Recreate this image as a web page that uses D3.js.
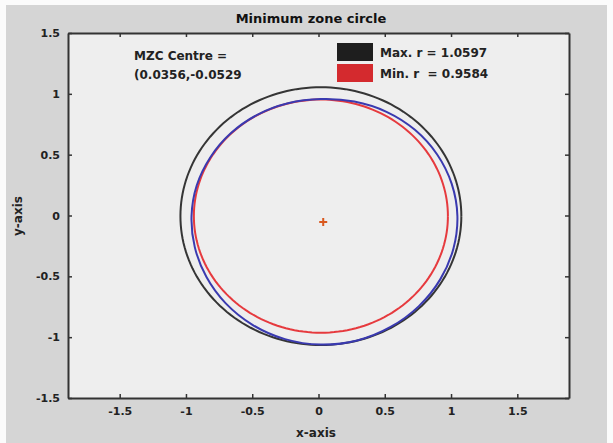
<!DOCTYPE html>
<html><head><meta charset="utf-8">
<script src="https://cdn.jsdelivr.net/npm/d3@7"></script>
<style>html,body{margin:0;padding:0;background:#fff}svg{display:block}</style>
</head><body>
<script>
// ---- data ----
const centre = [0.0356, -0.0529];          // reported MZC centre (marker + label)
const circleCentre = [0.018, -0.005];      // where the circles sit in the picture
const maxR = 1.0597;
const minR = 0.9584;
const xTicks = [-1.5, -1, -0.5, 0, 0.5, 1, 1.5];
const yTicks = [-1.5, -1, -0.5, 0, 0.5, 1, 1.5];
// measured profile (polar, about the circle centre)
const profileAngles = [0,15,30,45,60,75,90,105,120,135,150,165,180,195,210,225,240,255,270,285,300,315,330,345];
const profileRadii  = [1.03,1.022,1.013,1.003,0.99,0.975,0.962,0.96,0.961,0.962,0.964,0.97,0.976,0.985,0.998,1.015,1.032,1.047,1.056,1.058,1.052,1.046,1.04,1.035];

const W = 613, H = 443;
const FONT = "'DejaVu Sans', 'Liberation Sans', Arial, sans-serif";
const svg = d3.select("body").append("svg").attr("width", W).attr("height", H)
  .style("font-family", FONT);

svg.append("rect").attr("x", 0).attr("y", 0).attr("width", W).attr("height", H).attr("fill", "#fbfbfb");
svg.append("rect").attr("x", 6).attr("y", 5).attr("width", W - 12).attr("height", H - 5).attr("fill", "#d5d5d5");

const x = d3.scaleLinear().domain([-1.89, 1.89]).range([68, 569]);
const y = d3.scaleLinear().domain([-1.5, 1.5]).range([398, 33]);

svg.append("rect").attr("x", x.range()[0]).attr("y", y.range()[1])
  .attr("width", x.range()[1] - x.range()[0]).attr("height", y.range()[0] - y.range()[1])
  .attr("fill", "#eeeeee");

const line = d3.line().x(d => x(d[0])).y(d => y(d[1]));
function circlePts(r) {
  return d3.range(0, 361, 2).map(a => [circleCentre[0] + r * Math.cos(a * Math.PI / 180), circleCentre[1] + r * Math.sin(a * Math.PI / 180)]);
}

svg.append("path").attr("d", line(circlePts(maxR))).attr("fill", "none").attr("stroke", "#353535").attr("stroke-width", 2);
svg.append("path").attr("d", line(circlePts(minR))).attr("fill", "none").attr("stroke", "#e63a3e").attr("stroke-width", 2);

const prof = profileAngles.map((a, i) => [circleCentre[0] + profileRadii[i] * Math.cos(a * Math.PI / 180), circleCentre[1] + profileRadii[i] * Math.sin(a * Math.PI / 180)]);
svg.append("path").attr("d", d3.line().x(d => x(d[0])).y(d => y(d[1])).curve(d3.curveCatmullRomClosed)(prof))
  .attr("fill", "none").attr("stroke", "#3a3ab0").attr("stroke-width", 2);

// centre marker
const cx = x(centre[0]), cy = y(centre[1]);
svg.append("path").attr("d", `M${cx-4},${cy}H${cx+4}M${cx},${cy-4}V${cy+4}`).attr("stroke", "#d9581e").attr("stroke-width", 2);

// axes box
const g = svg.append("g");
const fmt = d => String(d);
const xb = d3.axisBottom(x).tickValues(xTicks).tickSizeInner(-4).tickSizeOuter(0).tickPadding(9).tickFormat(fmt);
const xt = d3.axisTop(x).tickValues(xTicks).tickSizeInner(-4).tickSizeOuter(0).tickFormat("");
const yl = d3.axisLeft(y).tickValues(yTicks).tickSizeInner(-4).tickSizeOuter(0).tickPadding(8).tickFormat(fmt);
const yr = d3.axisRight(y).tickValues(yTicks).tickSizeInner(-4).tickSizeOuter(0).tickFormat("");
g.append("g").attr("transform", `translate(0,${y.range()[0]})`).call(xb);
g.append("g").attr("transform", `translate(0,${y.range()[1]})`).call(xt);
g.append("g").attr("transform", `translate(${x.range()[0]},0)`).call(yl);
g.append("g").attr("transform", `translate(${x.range()[1]},0)`).call(yr);
g.selectAll(".domain").attr("stroke", "#333").attr("stroke-width", 2);
g.selectAll(".tick line").attr("stroke", "#333").attr("stroke-width", 1.5);
g.selectAll(".tick text").attr("font-size", 11).attr("font-weight", "bold").attr("fill", "#222")
  .attr("font-family", FONT);

// titles
svg.append("text").attr("x", 311).attr("y", 23).attr("text-anchor", "middle").attr("font-size", 13).attr("font-weight", "bold").attr("fill", "#111").text("Minimum zone circle");
svg.append("text").attr("x", 316).attr("y", 437).attr("text-anchor", "middle").attr("font-size", 12).attr("font-weight", "bold").attr("fill", "#222").text("x-axis");
svg.append("text").attr("transform", "translate(22,216) rotate(-90)").attr("text-anchor", "middle").attr("font-size", 12).attr("font-weight", "bold").attr("fill", "#222").text("y-axis");

// annotation
svg.append("text").attr("x", 134).attr("y", 60).attr("font-size", 12).attr("font-weight", "bold").attr("fill", "#222").text("MZC Centre =");
svg.append("text").attr("x", 134).attr("y", 79).attr("font-size", 12).attr("font-weight", "bold").attr("fill", "#222")
  .text(`(${centre[0]},${centre[1]}`);

// legend
const legend = [["Max. r = " + maxR, "#1e1e1e"], ["Min. r  = " + minR, "#d42a2e"]];
legend.forEach((d, i) => {
  svg.append("rect").attr("x", 337).attr("y", 43 + i * 21).attr("width", 36).attr("height", 18).attr("fill", d[1]);
  svg.append("text").attr("x", 380).attr("y", 57 + i * 21).attr("font-size", 12).attr("font-weight", "bold").attr("fill", "#222")
    .style("white-space", "pre").text(d[0]);
});
</script>
</body></html>
